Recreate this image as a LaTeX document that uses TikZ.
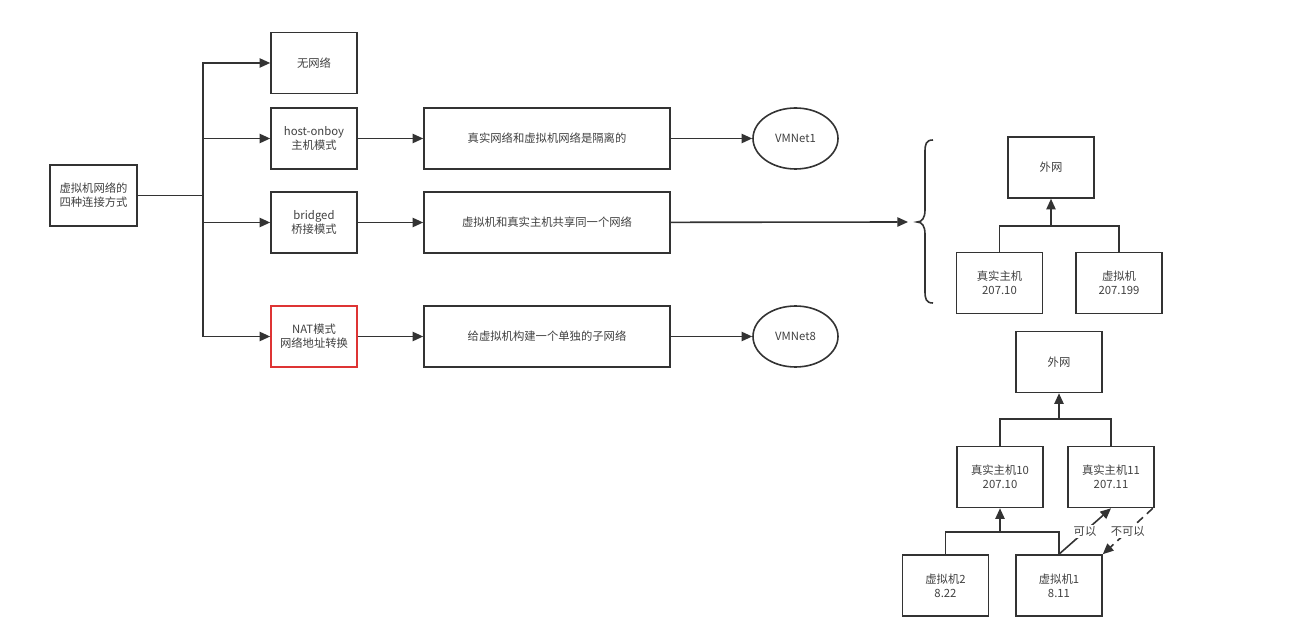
\documentclass[tikz,border=0pt]{standalone}
\usepackage{fontspec}
\setmainfont{Noto Sans CJK SC}
\usetikzlibrary{arrows.meta,shapes.geometric}
\definecolor{ln}{HTML}{333333}
\definecolor{tx}{HTML}{404040}
\definecolor{redb}{HTML}{DE3434}
\tikzset{
  base/.style={draw=ln, line width=1.2pt, text=tx, align=center, inner sep=0pt,
    font=\fontsize{8.5pt}{10.5pt}\selectfont},
  sbox/.style={base, rectangle, minimum width=64.5pt, minimum height=45.75pt},
  lbox/.style={base, rectangle, minimum width=184.5pt, minimum height=45.75pt},
  oval/.style={base, ellipse, minimum width=63.75pt, minimum height=45.75pt},
  arr/.style={draw=ln, line width=1.2pt, -{Triangle[length=8pt,width=7pt]}},
  lnk/.style={draw=ln, line width=1.2pt},
  lbl/.style={fill=white, text=tx, inner sep=1pt, font=\fontsize{8.5pt}{10.5pt}\selectfont}
}
\begin{document}
\begin{tikzpicture}[x=0.75pt,y=-0.75pt]
\useasboundingbox (0,0) rectangle (1300,634);
% left tree
\node[sbox, minimum width=65.25pt] (root) at (93.5,195.5) {虚拟机网络的\\四种连接方式};
\node[sbox] (none) at (314,63) {无网络};
\node[sbox] (host) at (314,138.5) {host-onboy\\主机模式};
\node[sbox] (brg) at (314,222.5) {bridged\\桥接模式};
\node[sbox, draw=redb] (nat) at (314,336.5) {NAT模式\\网络地址转换};
\node[lbox] (d1) at (547,138.5) {真实网络和虚拟机网络是隔离的};
\node[lbox] (d2) at (547,222.5) {虚拟机和真实主机共享同一个网络};
\node[lbox] (d3) at (547,336.5) {给虚拟机构建一个单独的子网络};
\node[oval] (v1) at (795.5,138.5) {VMNet1};
\node[oval] (v8) at (795.5,336.5) {VMNet8};
\coordinate (tr) at (203,195.5);
\draw[lnk] (root.east) -- (tr);
\draw[arr] (tr) |- (none.west);
\draw[arr] (tr) |- (host.west);
\draw[arr] (tr) |- (brg.west);
\draw[arr] (tr) |- (nat.west);
\draw[arr] (host) -- (d1);
\draw[arr] (brg) -- (d2);
\draw[arr] (nat) -- (d3);
\draw[arr] (d1) -- (v1);
\draw[arr] (d3) -- (v8);
% brace
\coordinate (btip) at (908,222);
\draw[lnk] (933,140) .. controls (926,140) and (925,144) .. (925,152)
  -- (925,210) .. controls (925,218) and (922,222) .. (917,222)
  .. controls (922,222) and (925,226) .. (925,234)
  -- (925,291) .. controls (925,299) and (926,303) .. (933,303);
\draw[arr] (d2) -- (btip);
% bridged tree
\node[sbox] (ww1) at (1051,167.5) {外网};
\node[sbox] (rh) at (999.5,283) {真实主机\\207.10};
\node[sbox] (vm) at (1119,283) {虚拟机\\207.199};
\coordinate (j1) at (1051,226);
\draw[lnk] (rh.north) |- (j1);
\draw[lnk] (vm.north) |- (j1);
\draw[arr] (j1) -- (ww1.south);
% NAT tree
\node[sbox] (ww2) at (1059,362) {外网};
\node[sbox] (h10) at (1000,477) {真实主机10\\207.10};
\node[sbox] (h11) at (1111,477) {真实主机11\\207.11};
\node[sbox] (vm2) at (945.5,585.5) {虚拟机2\\8.22};
\node[sbox] (vm1) at (1059,585.5) {虚拟机1\\8.11};
\coordinate (j2) at (1059,419);
\draw[lnk] (h10.north) |- (j2);
\draw[lnk] (h11.north) |- (j2);
\draw[arr] (j2) -- (ww2.south);
\coordinate (j3) at (1000,532);
\draw[lnk] (vm2.north) |- (j3);
\draw[lnk] (vm1.north) |- (j3);
\draw[arr] (j3) -- (h10.south);
\draw[arr] (vm1.north) -- node[lbl] {可以} (h11.south);
\draw[arr, dashed, dash pattern=on 6pt off 4pt] (h11.south east) ++(-2,0) coordinate (dstart) -- node[lbl, pos=0.5] {不可以} (vm1.north east);
\end{tikzpicture}
\end{document}
